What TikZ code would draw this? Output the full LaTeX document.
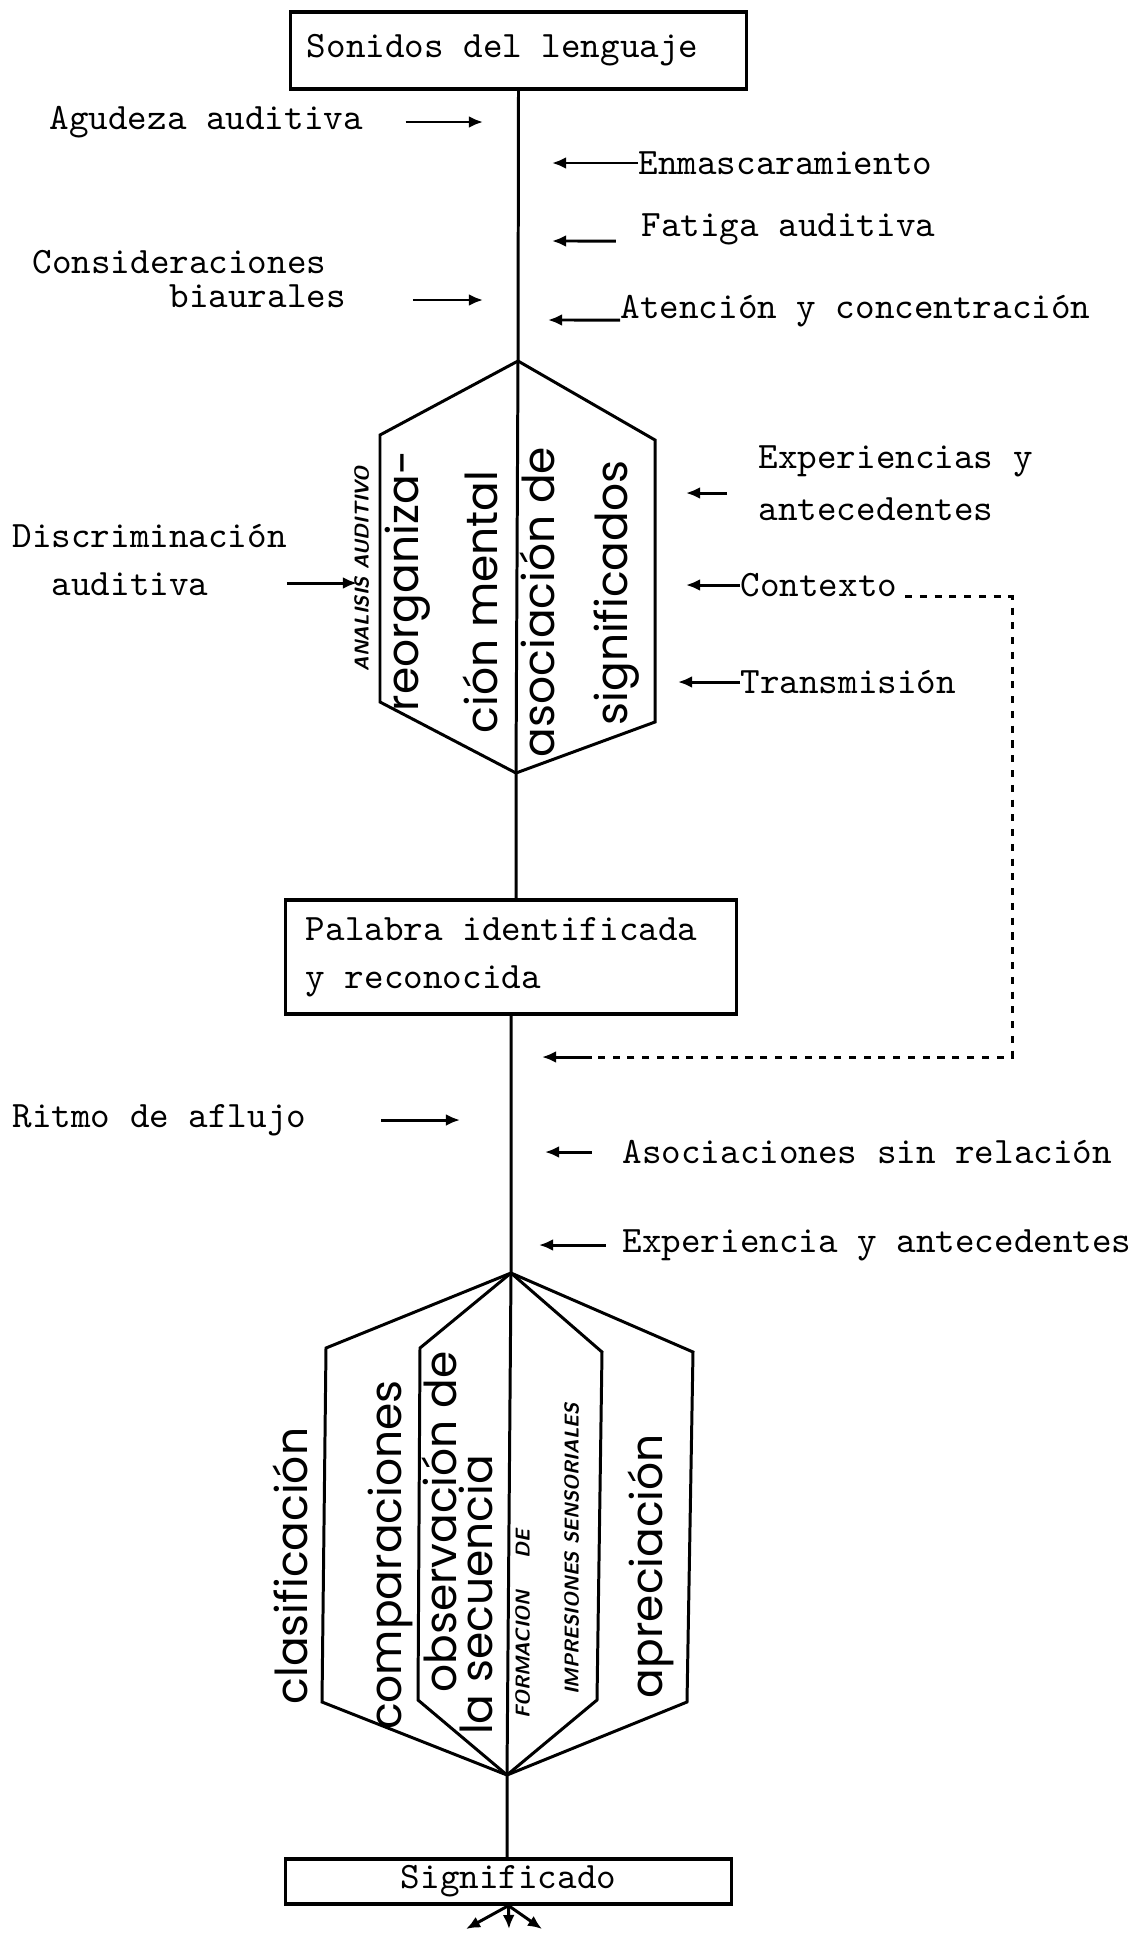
\documentclass[tikz,border=0pt]{standalone}
\usepackage{fontspec}
\newfontfamily\handfont{Poppins}
\usepackage{tikz}
\usetikzlibrary{positioning, arrows.meta}

\begin{document}
\begin{tikzpicture}[x=0.01cm, y=-0.01cm,
  txt/.style={font=\ttfamily\fontsize{10.6}{13.5}\selectfont, inner sep=0pt, align=left, anchor=west},
  box/.style={draw, line width=0.9pt, inner ysep=0pt, font=\ttfamily\fontsize{10.6}{13.7}\selectfont},
  hand/.style={font=\handfont\fontsize{12.5}{12.5}\selectfont, rotate=90, anchor=mid, inner sep=0pt},
  tag/.style={font=\sffamily\bfseries\itshape\fontsize{5.7}{5.7}\selectfont, rotate=90, anchor=mid, inner sep=0pt},
  wire/.style={line width=0.85pt},
  arr/.style={-{Latex[length=4pt,width=3.4pt]}, line width=0.85pt},
  feed/.style={line width=0.85pt, dash pattern=on 2pt off 2.2pt}]

\useasboundingbox (0,0) rectangle (1145,1933);

\node[box, inner xsep=0.16cm, text width=4.23cm, minimum height=0.77cm, align=left] (sonidos) at (518.5,50.5) {\spaceskip=0pt Sonidos del lenguaje};
\node[box, inner xsep=0.2cm, text width=4.1cm, minimum height=1.14cm, align=left] (palabra) at (511,957) {\spaceskip=0pt Palabra identificada\\y reconocida\\[-4pt]};
\node[box, minimum width=4.45cm, minimum height=0.45cm, align=center] (significado) at (508.5,1881.5) {Significado};

\coordinate (hA-top) at (518,361);
\coordinate (hA-ul) at (380,435);
\coordinate (hA-ll) at (380,702);
\coordinate (hA-bot) at (516,773);
\coordinate (hA-lr) at (655,722);
\coordinate (hA-ur) at (655,440);
\draw[wire] (hA-top) -- (hA-ul) -- (hA-ll) -- (hA-bot) -- (hA-lr) -- (hA-ur) -- cycle;

\coordinate (hB-top) at (511,1273);
\coordinate (hB-bot) at (507,1775);
\coordinate (hB-oul) at (326,1348);
\coordinate (hB-oll) at (322,1702);
\coordinate (hB-olr) at (687,1702);
\coordinate (hB-our) at (693,1352);
\coordinate (hB-iul) at (420,1348);
\coordinate (hB-ill) at (418,1700);
\coordinate (hB-ilr) at (597,1700);
\coordinate (hB-iur) at (602,1352);
\draw[wire] (hB-top) -- (hB-oul) -- (hB-oll) -- (hB-bot) -- (hB-olr) -- (hB-our) -- cycle;
\draw[wire] (hB-top) -- (hB-iul) -- (hB-ill) -- (hB-bot) -- (hB-ilr) -- (hB-iur) -- cycle;

\draw[wire] (sonidos.south) -- (hA-top) -- (hA-bot) -- (hA-bot |- palabra.north);
\draw[wire] (palabra.south) -- (hB-top) -- (hB-bot) -- (hB-bot |- significado.north);

\node[hand] (reorg) at (411,581) {reorganiza-};
\node[hand] (cionmental) at (490,602) {ción mental};
\node[hand] (asociacion) at (547,602) {asociación de};
\node[hand] (significados) at (620,593) {significados};
\node[tag] (analisis) at (361,569) {ANALISIS AUDITIVO};

\node[hand] (clasif) at (300,1566) {clasificación};
\node[hand] (compar) at (394,1555) {comparaciones};
\node[hand] (observ) at (449,1522) {observación de};
\node[hand] (secuencia) at (485,1595) {la secuencia};
\node[tag] (formacion) at (522,1624) {FORMACION\hspace{1.6em}DE};
\node[tag] (impresiones) at (571,1549) {IMPRESIONES SENSORIALES};
\node[hand] (aprec) at (655,1566) {apreciación};

\node[txt] (agudeza) at (49,122) {Agudeza auditiva};
\node[txt, font=\ttfamily\fontsize{10.6}{9.8}\selectfont] (consid) at (32,279) {Consideraciones\\\hphantom{Conside}biaurales};
\node[txt, font=\ttfamily\fontsize{10.6}{13.4}\selectfont] (discrim) at (12,560) {Discriminación\\\hphantom{Di}auditiva};
\node[txt] (ritmo) at (12,1120) {Ritmo de aflujo};

\node[txt] (enmasc) at (638,163) {Enmascaramiento};
\node[txt] (fatiga) at (641,229) {Fatiga auditiva};
\node[txt] (atencion) at (620,311) {Atención y concentración};
\node[txt, font=\ttfamily\fontsize{10.6}{14.8}\selectfont] (experA) at (758,483) {Experiencias y\\antecedentes};
\node[txt] (contexto) at (740,585) {Contexto};
\node[txt] (transm) at (740,682) {Transmisión};
\node[txt] (asocsin) at (622,1152) {Asociaciones sin relación};
\node[txt] (experB) at (622,1245) {Experiencia y antecedentes};

\coordinate (agudeza-tip) at (483,122);
\coordinate (consid-tip) at (483,300);
\coordinate (discrim-tip) at (357,583);
\coordinate (ritmo-tip) at (460,1120);
\coordinate (enmasc-tip) at (552,163);
\coordinate (fatiga-tip) at (552,241);
\coordinate (atencion-tip) at (548,320);
\coordinate (experA-tip) at (686,493);
\coordinate (contexto-tip) at (686,585);
\coordinate (transm-tip) at (678,682);
\coordinate (asocsin-tip) at (545,1152);
\coordinate (experB-tip) at (539,1245);

\draw[arr] ([xshift=0.42cm]agudeza.east) -- (agudeza-tip);
\draw[arr] ([xshift=-0.7cm]consid-tip) -- (consid-tip);
\draw[arr] ([xshift=-0.7cm]discrim-tip) -- (discrim-tip);
\draw[arr] ([xshift=0.74cm]ritmo.east) -- (ritmo-tip);
\draw[arr] (enmasc.west) -- (enmasc-tip);
\draw[arr] ([xshift=-0.25cm,yshift=-0.12cm]fatiga.west) -- (fatiga-tip);
\draw[arr] ([yshift=-0.09cm]atencion.west) -- (atencion-tip);
\draw[arr] ([xshift=0.41cm]experA-tip) -- (experA-tip);
\draw[arr] (contexto.west) -- (contexto-tip);
\draw[arr] (transm.west) -- (transm-tip);
\draw[arr] ([xshift=-0.3cm]asocsin.west) -- (asocsin-tip);
\draw[arr] ([xshift=-0.16cm]experB.west) -- (experB-tip);

\coordinate (fb-corner) at (1012,1057);
\coordinate (fb-join) at (592,1057);
\coordinate (fb-tip) at (542,1057);
\draw[feed] ([xshift=2pt]contexto.base east) -| (fb-corner) -- (fb-join);
\draw[arr] (fb-join) -- (fb-tip);

\coordinate (out-l) at (466,1929);
\coordinate (out-m) at (509,1929);
\coordinate (out-r) at (542,1929);
\draw[arr] (significado.south) -- (out-l);
\draw[arr] (significado.south) -- (out-m);
\draw[arr] (significado.south) -- (out-r);

\end{tikzpicture}
\end{document}
